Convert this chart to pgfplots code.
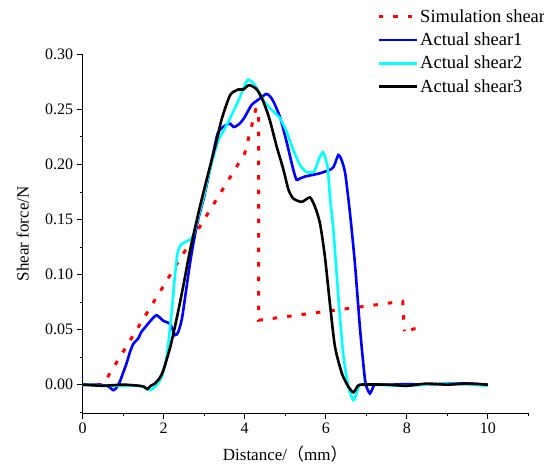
\documentclass[border=0pt]{standalone}
\usepackage{fontspec}
\setmainfont{Liberation Serif}
\newfontfamily\cjk{Noto Sans CJK SC}
\usepackage{pgfplots}
\pgfplotsset{compat=1.18}
\definecolor{simred}{RGB}{255,0,0}
\definecolor{act1}{RGB}{0,0,255}
\definecolor{act2}{RGB}{0,255,255}

% Simulation and measured shear force
\pgfplotstableread{
x y
0 0
0.5 0
4.0 0.21
4.28 0.251
4.34 0.249
4.34 0.0585
7.9 0.0757
7.94 0.0485
}\simdata

\begin{document}
\begin{tikzpicture}
\begin{axis}[
  scale only axis, width=445.6pt, height=359pt,
  at={(0,0)}, anchor=south west,
  xmin=0, xmax=11, ymin=-0.026, ymax=0.30,
  axis x line*=bottom, axis y line*=left,
  axis line style={line width=0.9pt},
  tick align=outside,
  major tick length=6pt, minor tick length=3pt,
  every tick/.style={black, line width=0.9pt},
  xtick={0,2,...,10}, minor xtick={1,3,...,11},
  ytick={0,0.05,...,0.30}, minor ytick={-0.025,0.025,0.075,...,0.275},
  yticklabel style={/pgf/number format/.cd, fixed, fixed zerofill, precision=2},
  /pgf/number format/assume math mode=true,
  tick label style={font=\fontsize{16}{18}\selectfont},
  xlabel={Distance/{\cjk （}mm{\cjk ）}},
  ylabel={Shear force/N},
  label style={font=\fontsize{17}{20}\selectfont},
  xlabel style={at={(axis description cs:0.4545,0)}, anchor=base, yshift=-47pt},
  ylabel style={at={(axis description cs:0,0.5)}, anchor=center, yshift=60pt},
  legend cell align=left,
  legend style={at={(0.6605,1.131)}, anchor=north west, draw=none, fill=none,
    inner sep=0pt, font=\fontsize{18.5}{21}\selectfont, row sep=5pt},
  legend image code/.code={\draw[#1] (0pt,0pt) -- (38pt,0pt);},
]
\addplot[simred, line width=3pt, dash pattern=on 4.5pt off 10pt] table {\simdata};
\addlegendentry{Simulation shear}
\addplot[act1, line width=2.6pt, smooth, tension=0.4] coordinates {
(0,0) (0.3,0) (0.6,-0.001) (0.76,-0.005) (0.85,-0.002) (0.92,0.003) (1.0,0.011)
(1.08,0.019) (1.17,0.03) (1.25,0.037) (1.37,0.042) (1.45,0.048) (1.54,0.052)
(1.65,0.057) (1.82,0.063) (1.99,0.058) (2.16,0.055) (2.28,0.045) (2.36,0.048)
(2.45,0.06) (2.55,0.085) (2.64,0.108) (2.73,0.128) (2.85,0.15) (2.98,0.168)
(3.1,0.188) (3.22,0.21) (3.33,0.228) (3.43,0.233) (3.55,0.236) (3.64,0.237) (3.72,0.234)
(3.8,0.235) (3.9,0.238) (4.0,0.243) (4.17,0.254) (4.38,0.26) (4.53,0.264)
(4.62,0.262) (4.71,0.257) (4.87,0.243) (5.03,0.221) (5.2,0.195) (5.28,0.186)
(5.35,0.187) (5.49,0.189) (5.86,0.192) (6.15,0.196) (6.22,0.2) (6.31,0.2085)
(6.38,0.205) (6.48,0.192) (6.6,0.155) (6.72,0.11) (6.85,0.049) (6.97,0.004)
(7.04,-0.005) (7.09,-0.008) (7.15,-0.004) (7.22,0) (7.6,0) (8.0,0.0005)
(8.5,0) (9.0,0.001) (9.5,0.001) (10,0)};
\addlegendentry{Actual shear1}
\addplot[act2, line width=2.6pt, smooth, tension=0.4] coordinates {
(0,0) (0.5,-0.001) (1.0,-0.001) (1.4,-0.001) (1.55,-0.003) (1.66,-0.005)
(1.78,-0.002) (1.91,0.004) (2.0,0.013) (2.07,0.025) (2.13,0.042) (2.2,0.0675)
(2.28,0.1) (2.34,0.119) (2.42,0.127) (2.5,0.129) (2.61,0.131) (2.73,0.135)
(2.85,0.152) (2.98,0.17) (3.14,0.195) (3.35,0.222) (3.5,0.232)
(3.64,0.242) (3.88,0.261) (4.0,0.272) (4.09,0.277) (4.25,0.272) (4.46,0.258)
(4.6,0.252) (4.71,0.248) (4.87,0.242) (5.03,0.23) (5.2,0.213) (5.37,0.199)
(5.53,0.193) (5.69,0.193) (5.76,0.197) (5.82,0.204) (5.93,0.211) (6.02,0.202)
(6.06,0.192) (6.11,0.168) (6.19,0.14) (6.31,0.08) (6.43,0.028) (6.56,-0.002)
(6.68,-0.014) (6.76,-0.008) (6.85,0) (7.2,0) (8,-0.001) (9,0.001) (10,-0.001)};
\addlegendentry{Actual shear2}
\addplot[black, line width=2.6pt, smooth, tension=0.4] coordinates {
(0,0) (0.5,-0.001) (1.0,0) (1.4,-0.001) (1.52,-0.002) (1.59,-0.004) (1.68,-0.001)
(1.78,0.001) (1.9,0.006) (1.99,0.013) (2.16,0.034) (2.32,0.06) (2.48,0.089)
(2.65,0.122) (2.89,0.161) (3.1,0.192) (3.31,0.222) (3.43,0.241)
(3.64,0.263) (3.84,0.268) (3.96,0.268) (4.11,0.272) (4.3,0.268) (4.46,0.257)
(4.62,0.24) (4.79,0.216) (4.95,0.196) (5.08,0.177) (5.2,0.169) (5.41,0.166)
(5.61,0.17) (5.74,0.161) (5.86,0.146) (5.98,0.116) (6.11,0.071) (6.23,0.034)
(6.4,0.01) (6.56,-0.002) (6.68,-0.007) (6.76,-0.003) (6.85,0) (7.5,0)
(8,-0.001) (8.5,0.001) (9,0) (9.5,0.001) (10,0)};
\addlegendentry{Actual shear3}
% tail of the simulation curve, dash phase set so its end shows
\addplot[simred, line width=3pt, dash pattern=on 4.5pt off 10pt, dash phase=7.5pt, forget plot]
  coordinates {(7.94,0.0485) (8.22,0.051)};
\end{axis}
\pgfresetboundingbox
\useasboundingbox (-82.7pt,-52.7pt) rectangle (461.3pt,413.3pt);
\end{tikzpicture}
\end{document}
